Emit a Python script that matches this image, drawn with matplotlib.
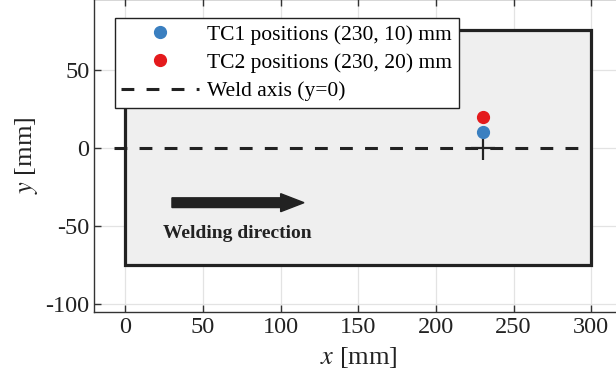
import matplotlib
matplotlib.use("Agg")
import matplotlib.pyplot as plt
from matplotlib.patches import Rectangle, FancyArrow

plt.rcParams['font.family'] = ['Liberation Serif', 'DejaVu Serif']
plt.rcParams['mathtext.fontset'] = 'stix'
plt.rcParams['axes.unicode_minus'] = False

# Data
plate_x = [0, 300]
plate_y = [-75, 75]
tc1 = (230, 10)
tc2 = (230, 20)
weld_x = [-7, 300]
weld_y = [0, 0]
weld_center = (230, 0)
arrow_x = [30, 115]
arrow_y = -35
label_pos = (72, -54.5)
xticks = [0, 50, 100, 150, 200, 250, 300]
yticks = [-100, -50, 0, 50]

W, H = 616, 383
fig = plt.figure(figsize=(W / 100, H / 100), dpi=100)
x0, x1 = -20, 320
y0, y1 = -105, 95
left_px, bottom_px = 94.3, 312.3
ppx = 1.553
ppy = 1.566
ax = fig.add_axes([left_px / W, (H - bottom_px) / H,
                   (x1 - x0) * ppx / W, (y1 - y0) * ppy / H])
ax.set_xlim(x0, x1)
ax.set_ylim(y0, y1)

ax.grid(True, color='#e3e3e3', linewidth=0.9, zorder=0)
ax.set_axisbelow(True)

ax.add_patch(Rectangle((plate_x[0], plate_y[0]), plate_x[1] - plate_x[0],
                       plate_y[1] - plate_y[0], facecolor='#efefef',
                       edgecolor='#222222', linewidth=2.3, zorder=2))

ax.plot(weld_x, weld_y, linestyle=(0, (4.2, 4.0)), color='#222222', linewidth=2.2,
        zorder=3, label='Weld axis (y=0)')
ax.plot(*weld_center, marker='+', markersize=17, markeredgewidth=1.6,
        color='#222222', zorder=4, linestyle='none')
ax.plot(*tc1, 'o', color='#3a7fc0', markersize=8.5, zorder=5,
        label='TC1 positions (230, 10) mm')
ax.plot(*tc2, 'o', color='#e41a1c', markersize=8.5, zorder=5,
        label='TC2 positions (230, 20) mm')

ax.add_patch(FancyArrow(arrow_x[0], arrow_y, arrow_x[1] - arrow_x[0] - 15, 0,
                        width=6.2, head_width=11.5, head_length=15,
                        length_includes_head=False, color='#222222', zorder=4))
ax.text(label_pos[0], label_pos[1], 'Welding direction', fontsize=14,
        fontweight='bold', ha='center', va='center', color='#222222', zorder=4)

ax.set_xticks(xticks)
ax.set_yticks(yticks)
ax.tick_params(direction='in', length=5, width=1, labelsize=17.5,
               top=True, right=False, colors='#333333', labelcolor='#222222')
for s in ['left', 'bottom', 'top']:
    ax.spines[s].set_color('#333333')
    ax.spines[s].set_linewidth(1.0)
ax.spines['right'].set_visible(False)

ax.set_xlabel(r'$x$ [mm]', fontsize=19, color='#222222', labelpad=5)
ax.set_ylabel(r'$y$ [mm]', fontsize=19, color='#222222', labelpad=4)

h, l = ax.get_legend_handles_labels()
order = [1, 2, 0]
leg = ax.legend([h[i] for i in order], [l[i] for i in order],
                loc='upper left', bbox_to_anchor=(0.039, 0.939), fontsize=15.5,
                frameon=True, fancybox=False, edgecolor='#222222',
                framealpha=1, borderpad=0.3, labelspacing=0.38,
                handlelength=3.6, handletextpad=0.4, borderaxespad=0)
leg.get_frame().set_linewidth(1.0)
leg.set_zorder(10)

fig.savefig('out.png', dpi=100)
